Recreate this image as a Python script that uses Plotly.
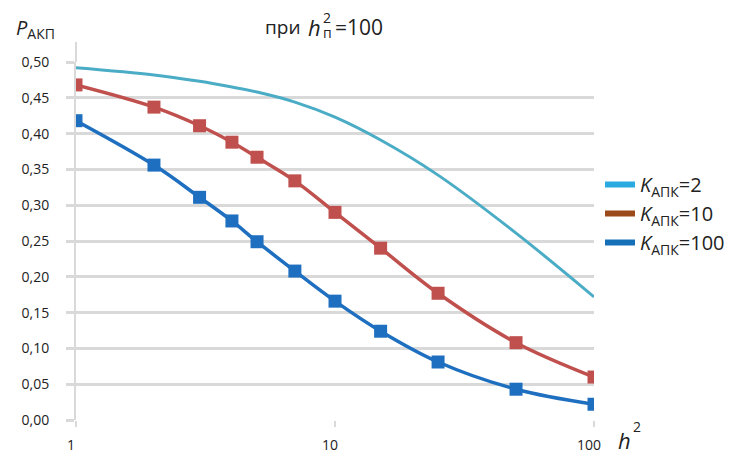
import plotly.graph_objects as go

# Channel quality h^2 (log axis) and probability P_АКП for three K_АПК values
h2 = [1, 2, 3, 4, 5, 7, 10, 15, 25, 50, 100]
p_k2 = [0.492, 0.482, 0.473, 0.465, 0.458, 0.444, 0.423, 0.391, 0.342, 0.261, 0.172]
p_k10 = [0.468, 0.437, 0.411, 0.388, 0.367, 0.334, 0.290, 0.240, 0.177, 0.108, 0.060]
p_k100 = [0.418, 0.356, 0.311, 0.278, 0.249, 0.208, 0.166, 0.124, 0.081, 0.043, 0.022]

series_names = ["<i>K</i><sub>АПК</sub>=2", "<i>K</i><sub>АПК</sub>=10", "<i>K</i><sub>АПК</sub>=100"]
x_ticks = [1, 10, 100]
x_ticktext = ["1", "10", "100"]
y_ticks = [0, 0.05, 0.10, 0.15, 0.20, 0.25, 0.30, 0.35, 0.40, 0.45, 0.50]

FONT = "Open Sans"
GRID = "#D9D9D9"

W, H = 735, 455
L, R, T, B = 76, 141, 62, 35
PW, PH = W - L - R, H - T - B


def px(x):
    return (x - L) / PW


def py(y):
    return (H - B - y) / PH


fig = go.Figure()

# Plotted curves (legend drawn by separate swatch traces below)
fig.add_trace(go.Scatter(
    x=h2, y=p_k2, mode="lines", line=dict(color="#4BACC6", width=3, shape="spline", smoothing=1.0),
    showlegend=False))
fig.add_trace(go.Scatter(
    x=h2, y=p_k10, mode="lines+markers", line=dict(color="#C0504D", width=3.5, shape="spline", smoothing=1.0),
    marker=dict(symbol="square", size=13, color="#C0504D"), showlegend=False))
fig.add_trace(go.Scatter(
    x=h2, y=p_k100, mode="lines+markers", line=dict(color="#1F6FC0", width=3.5, shape="spline", smoothing=1.0),
    marker=dict(symbol="square", size=13, color="#1F6FC0"), showlegend=False))

# Legend entries
for name, col in zip(series_names, ["#29ABE2", "#9B4A1C", "#1670B8"]):
    fig.add_trace(go.Scatter(x=[None], y=[None], mode="lines", name=name,
                             line=dict(color=col, width=6)))

fig.update_layout(
    width=W, height=H,
    margin=dict(l=L, r=R, t=T, b=B, autoexpand=False),
    paper_bgcolor="white", plot_bgcolor="white",
    separators=", ",
    font=dict(family=FONT, size=14, color="#222222"),
    legend=dict(x=px(600), y=py(165), xanchor="left", yanchor="top",
                font=dict(family=FONT, size=20, color="#222222"),
                bgcolor="rgba(0,0,0,0)", tracegroupgap=0, itemwidth=30),
    xaxis=dict(type="log", range=[0, 2], tickvals=x_ticks, ticktext=x_ticktext,
               showgrid=False, zeroline=False, showline=False, automargin=False,
               ticks="outside", ticklen=6, tickwidth=2, tickcolor=GRID,
               ticklabelstandoff=6, ticklabelshift=-5,
               tickfont=dict(size=14, color="#222222")),
    yaxis=dict(range=[0, 0.5], tickvals=y_ticks, tickformat=".2f", automargin=False,
               showgrid=True, gridcolor=GRID, gridwidth=2.5, zeroline=False,
               showline=True, linecolor=GRID, linewidth=2,
               ticks="outside", ticklen=8, tickwidth=2.5, tickcolor=GRID,
               ticklabelstandoff=14,
               tickfont=dict(size=14, color="#222222")),
)

# value axis line continues a little above the top gridline
fig.add_shape(type="line", xref="paper", yref="paper", x0=0, x1=0, y0=1, y1=py(42),
              line=dict(color=GRID, width=2))

# Axis titles and chart heading
annotations = [
    dict(x=px(14), y=py(28), text="<i>P</i><sub>АКП</sub>", xanchor="left", yanchor="middle",
         font=dict(size=20)),
    dict(x=px(263), y=py(27), text="при", xanchor="left", yanchor="middle", font=dict(size=19)),
    dict(x=px(306), y=py(27), text="<i>h</i>", xanchor="left", yanchor="middle", font=dict(size=22)),
    dict(x=px(321), y=py(17), text="2", xanchor="left", yanchor="middle", font=dict(size=14)),
    dict(x=px(321), y=py(33), text="п", xanchor="left", yanchor="middle", font=dict(size=14)),
    dict(x=px(333), y=py(27), text="=100", xanchor="left", yanchor="middle", font=dict(size=21)),
    dict(x=px(616), y=py(440), text="<i>h</i>", xanchor="left", yanchor="middle", font=dict(size=22)),
    dict(x=px(631), y=py(426), text="2", xanchor="left", yanchor="middle", font=dict(size=14)),
]
for a in annotations:
    a.update(xref="paper", yref="paper", showarrow=False)
fig.update_layout(annotations=annotations)

fig.write_html("out.html")
